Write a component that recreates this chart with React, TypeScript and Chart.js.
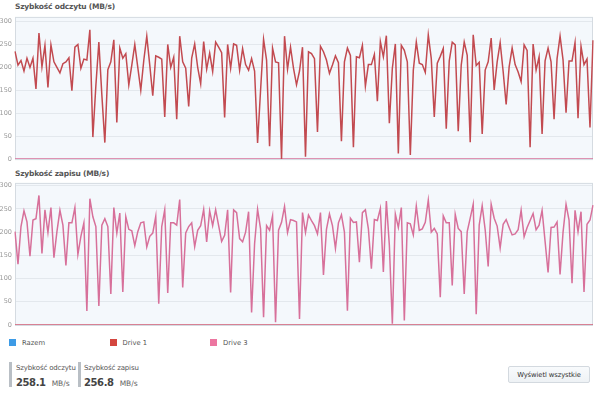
import React, { useEffect, useRef } from "react";
import { Chart, registerables } from "chart.js";

Chart.register(...registerables);

// Read speed, Drive 1 (MB/s)
const readDrive1: number[] = [
  235, 205, 215, 192, 220, 200, 220, 153, 275, 201, 248, 156, 249, 212, 200, 188, 208, 212, 221, 149,
  244, 250, 198, 218, 216, 282, 48, 160, 255, 140, 36, 195, 212, 260, 80, 242, 220, 230, 162, 205,
  250, 200, 150, 215, 268, 205, 138, 225, 222, 218, 92, 250, 200, 222, 87, 268, 212, 198, 115, 220,
  251, 200, 164, 256, 196, 231, 191, 255, 244, 232, 91, 250, 198, 251, 248, 194, 241, 206, 194, 219,
  192, 35, 150, 261, 216, 28, 242, 212, 210, 0, 268, 196, 244, 198, 162, 192, 244, 5, 234, 230,
  219, 59, 246, 234, 216, 187, 205, 225, 210, 39, 212, 242, 226, 26, 223, 221, 248, 159, 206, 206,
  228, 126, 256, 223, 269, 78, 198, 251, 12, 248, 237, 212, 9, 194, 255, 209, 206, 189, 271, 219,
  92, 209, 224, 241, 66, 214, 255, 249, 61, 205, 255, 226, 37, 271, 204, 211, 55, 194, 212, 264,
  151, 212, 254, 191, 119, 201, 242, 206, 190, 169, 249, 237, 26, 251, 194, 223, 55, 214, 242, 212,
  87, 219, 268, 216, 101, 214, 214, 254, 89, 246, 206, 218, 69, 259,
];

// Write speed, Drive 3 (MB/s)
const writeDrive3: number[] = [
  201, 131, 212, 246, 222, 148, 226, 229, 279, 154, 248, 199, 253, 145, 201, 247, 215, 128, 220, 220,
  253, 152, 191, 220, 30, 272, 233, 212, 41, 215, 229, 212, 67, 253, 198, 241, 71, 233, 206, 203,
  171, 201, 220, 222, 168, 191, 198, 234, 46, 212, 248, 69, 220, 220, 215, 270, 81, 198, 212, 220,
  169, 204, 214, 249, 179, 246, 214, 248, 214, 180, 193, 248, 70, 248, 242, 186, 179, 200, 244, 27,
  175, 249, 207, 17, 214, 204, 235, 6, 204, 221, 255, 199, 227, 225, 222, 13, 242, 199, 237, 225,
  214, 196, 242, 108, 206, 239, 214, 165, 220, 237, 200, 31, 230, 221, 222, 135, 242, 248, 207, 121,
  227, 225, 251, 114, 267, 172, 3, 239, 210, 253, 10, 220, 218, 194, 256, 204, 207, 221, 269, 200,
  208, 196, 60, 235, 220, 220, 85, 238, 208, 201, 67, 201, 230, 260, 23, 215, 257, 205, 126, 260,
  230, 213, 166, 217, 227, 210, 194, 196, 205, 247, 190, 210, 225, 240, 205, 215, 247, 180, 113, 210,
  211, 222, 109, 200, 260, 226, 90, 247, 201, 244, 71, 217, 226, 258,
];

// Drives that show no traffic in a chart sit on the zero line
const readDrive3: number[] = readDrive1.map(() => 0);
const writeDrive1: number[] = writeDrive3.map(() => 0);

const timeLabels: string[] = readDrive1.map((_, i) => String(i));
const yTicks: number[] = [0, 50, 100, 150, 200, 250, 300];

const legendItems = [
  { name: "Razem", color: "#3d9be6" },
  { name: "Drive 1", color: "#d4463f" },
  { name: "Drive 3", color: "#ec76a0" },
];

const readSpeed = "258.1";
const writeSpeed = "256.8";

const FONT = '"DejaVu Sans", Verdana, sans-serif';
const DRIVE1_LINE = "#c24a50";
const DRIVE3_LINE = "#d7709a";

const boxPlugin = {
  id: "boxPlugin",
  beforeDraw(chart: any) {
    const { ctx, chartArea } = chart;
    ctx.save();
    ctx.fillStyle = "#f4f8fc";
    ctx.fillRect(chartArea.left, chartArea.top, chartArea.right - chartArea.left, chartArea.bottom - chartArea.top);
    ctx.restore();
  },
  beforeDatasetsDraw(chart: any) {
    const { ctx, chartArea } = chart;
    ctx.save();
    ctx.strokeStyle = "#d5dbe1";
    ctx.lineWidth = 1;
    ctx.strokeRect(chartArea.left + 0.5, chartArea.top + 0.5, chartArea.right - chartArea.left - 1, chartArea.bottom - chartArea.top);
    ctx.restore();
  },
};

function makeConfig(main: number[], mainColor: string, zero: number[], zeroColor: string, yMax: number, padBottom: number) {
  return {
    type: "line" as const,
    data: {
      labels: timeLabels,
      datasets: [
        {
          data: main,
          borderColor: mainColor,
          borderWidth: 1.5,
          pointRadius: 0,
          tension: 0,
          fill: false,
        },
        {
          data: zero,
          borderColor: zeroColor,
          borderWidth: 1.6,
          pointRadius: 0,
          tension: 0,
          fill: false,
        },
      ],
    },
    options: {
      animation: false as const,
      responsive: false,
      devicePixelRatio: 1,
      layout: { padding: { top: 4, bottom: padBottom, right: 5, left: 0 } },
      plugins: { legend: { display: false }, tooltip: { enabled: false }, title: { display: false } },
      scales: {
        x: { type: "category" as const, display: false, offset: false },
        y: {
          min: 0,
          max: yMax,
          afterFit: (scale: any) => {
            scale.width = 15;
          },
          afterBuildTicks: (scale: any) => {
            scale.ticks = yTicks.map((v) => ({ value: v }));
          },
          ticks: {
            font: { family: FONT, size: 6.5 },
            color: "#9a9a9a",
            padding: 3,
          },
          grid: { color: "#e3e8ed", drawTicks: false, lineWidth: 1 },
          border: { display: false },
        },
      },
    },
    plugins: [boxPlugin],
  };
}

export default function App() {
  const c1 = useRef<HTMLCanvasElement>(null);
  const c2 = useRef<HTMLCanvasElement>(null);

  useEffect(() => {
    const ch1 = new Chart(c1.current as HTMLCanvasElement, makeConfig(readDrive1, DRIVE1_LINE, readDrive3, DRIVE3_LINE, 310, 6) as any);
    const ch2 = new Chart(c2.current as HTMLCanvasElement, makeConfig(writeDrive3, DRIVE3_LINE, writeDrive1, "#cf5a72", 306, 7) as any);
    return () => {
      ch1.destroy();
      ch2.destroy();
    };
  }, []);

  const titleStyle: React.CSSProperties = {
    position: "absolute",
    left: 15,
    fontSize: 7.5,
    fontWeight: "bold",
    letterSpacing: -0.2,
    color: "#555",
    whiteSpace: "nowrap",
    lineHeight: "10px",
  };

  const statLabel: React.CSSProperties = {
    position: "absolute",
    top: 363,
    fontSize: 7,
    letterSpacing: -0.15,
    color: "#555",
    whiteSpace: "nowrap",
    lineHeight: "10px",
  };

  return (
    <div
      style={{
        position: "fixed",
        left: 0,
        top: 0,
        width: 598,
        height: 393,
        background: "#fff",
        fontFamily: FONT,
        overflow: "hidden",
      }}
    >
      <div style={{ ...titleStyle, top: 2 }}>Szybkość odczytu (MB/s)</div>
      <canvas ref={c1} width={598} height={156} style={{ position: "absolute", left: 0, top: 10, width: 598, height: 156 }} />
      <div style={{ ...titleStyle, top: 169 }}>Szybkość zapisu (MB/s)</div>
      <canvas ref={c2} width={598} height={156} style={{ position: "absolute", left: 0, top: 176, width: 598, height: 156 }} />

      {legendItems.map((it, i) => (
        <div key={it.name} style={{ position: "absolute", left: 9 + i * 100.5, top: 338, height: 9, display: "flex", alignItems: "center", whiteSpace: "nowrap" }}>
          <span style={{ display: "inline-block", width: 7, height: 7, background: it.color, marginRight: 6 }} />
          <span style={{ fontSize: 6.8, color: "#555" }}>{it.name}</span>
        </div>
      ))}

      <div style={{ position: "absolute", left: 9, top: 362, width: 3, height: 25, background: "#b9bfc5" }} />
      <div style={{ ...statLabel, left: 16 }}>Szybkość odczytu</div>
      <div style={{ position: "absolute", left: 16, top: 374, whiteSpace: "nowrap", lineHeight: "14px" }}>
        <span style={{ fontSize: 10, fontWeight: "bold", letterSpacing: -0.4, color: "#444" }}>{readSpeed}</span>
        <span style={{ fontSize: 7.5, color: "#666", marginLeft: 6 }}>MB/s</span>
      </div>

      <div style={{ position: "absolute", left: 78, top: 362, width: 3, height: 25, background: "#b9bfc5" }} />
      <div style={{ ...statLabel, left: 84 }}>Szybkość zapisu</div>
      <div style={{ position: "absolute", left: 84, top: 374, whiteSpace: "nowrap", lineHeight: "14px" }}>
        <span style={{ fontSize: 10, fontWeight: "bold", letterSpacing: -0.4, color: "#444" }}>{writeSpeed}</span>
        <span style={{ fontSize: 7.5, color: "#666", marginLeft: 6 }}>MB/s</span>
      </div>

      <div
        style={{
          position: "absolute",
          left: 508,
          top: 366,
          width: 80,
          height: 15,
          border: "1px solid #d3d9df",
          borderRadius: 2,
          background: "linear-gradient(#f8fafc, #eef2f5)",
          fontSize: 6.8,
          letterSpacing: -0.1,
          color: "#333",
          display: "flex",
          alignItems: "center",
          justifyContent: "center",
          whiteSpace: "nowrap",
        }}
      >
        Wyświetl wszystkie
      </div>
    </div>
  );
}
